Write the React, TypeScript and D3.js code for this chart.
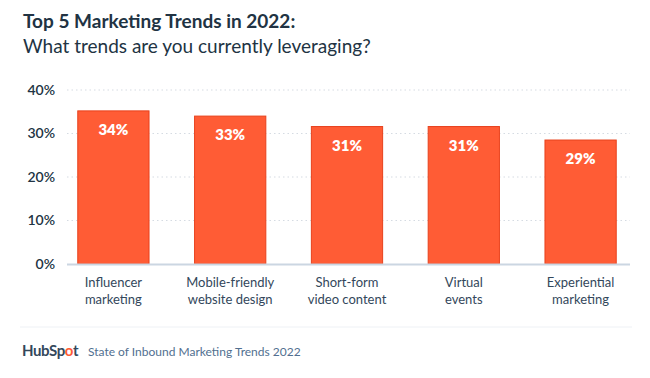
import React from "react";
import * as d3 from "d3";

const categories = [
  ["Influencer", "marketing"],
  ["Mobile-friendly", "website design"],
  ["Short-form", "video content"],
  ["Virtual", "events"],
  ["Experiential", "marketing"],
];
const barValues = [35.2, 34.0, 31.6, 31.6, 28.5];
const barLabels = ["34%", "33%", "31%", "31%", "29%"];
const yTicks = [0, 10, 20, 30, 40];

const W = 650;
const H = 378;
const FONT = "Lato, 'Open Sans', sans-serif";

export default function App() {
  const x = d3
    .scaleBand<number>()
    .domain(d3.range(categories.length))
    .range([55, 639])
    .paddingInner(0.39)
    .paddingOuter(0.195);
  const y = d3.scaleLinear().domain([0, 40]).range([264, 90]);

  return (
    <svg
      width={W}
      height={H}
      style={{ position: "absolute", left: 0, top: 0, background: "#fff" }}
      fontFamily={FONT}
    >
      <rect width={W} height={H} fill="#fff" />
      <text x={23} y={28} fontSize={19} fontWeight={700} fill="#213343">
        Top 5 Marketing Trends in 2022:
      </text>
      <text x={23} y={53} fontSize={19} fill="#213343">
        What trends are you currently leveraging?
      </text>

      {yTicks.map((t) => (
        <g key={t}>
          {t > 0 && (
            <line
              x1={67}
              x2={630}
              y1={y(t)}
              y2={y(t)}
              stroke="#d5dbe2"
              strokeDasharray="1.5 3"
              strokeWidth={1}
            />
          )}
          <text
            x={55}
            y={y(t)}
            dy="0.35em"
            textAnchor="end"
            fontSize={14}
            fontWeight={600}
            fill="#213343"
          >
            {t}%
          </text>
        </g>
      ))}

      {barValues.map((v, i) => (
        <g key={i}>
          <rect
            x={x(i)!}
            y={y(v)}
            width={x.bandwidth()}
            height={y(0) - y(v)}
            fill="#ff5c35"
            stroke="#e8411c"
            strokeWidth={1}
          />
          <text
            x={x(i)! + x.bandwidth() / 2}
            y={y(v) + 24}
            textAnchor="middle"
            fontSize={15}
            fontWeight={800}
            fill="#fff"
          >
            {barLabels[i]}
          </text>
          {categories[i].map((line, j) => (
            <text
              key={j}
              x={x(i)! + x.bandwidth() / 2}
              y={287 + j * 16.5}
              textAnchor="middle"
              fontSize={13}
              fill="#33475b"
            >
              {line}
            </text>
          ))}
        </g>
      ))}

      <line x1={67} x2={630} y1={264.5} y2={264.5} stroke="#cbd6e2" strokeWidth={2} />

      <line x1={20} x2={632} y1={327} y2={327} stroke="#eef1f5" strokeWidth={1} />
      <text x={22} y={356} fontSize={15} fontWeight={700} fill="#33475b" letterSpacing={-0.4}>
        HubSp
        <tspan fill="#ff5c35">o</tspan>
        t
      </text>
      <text x={88} y={356} fontSize={12} fill="#516f90">
        State of Inbound Marketing Trends 2022
      </text>
    </svg>
  );
}
